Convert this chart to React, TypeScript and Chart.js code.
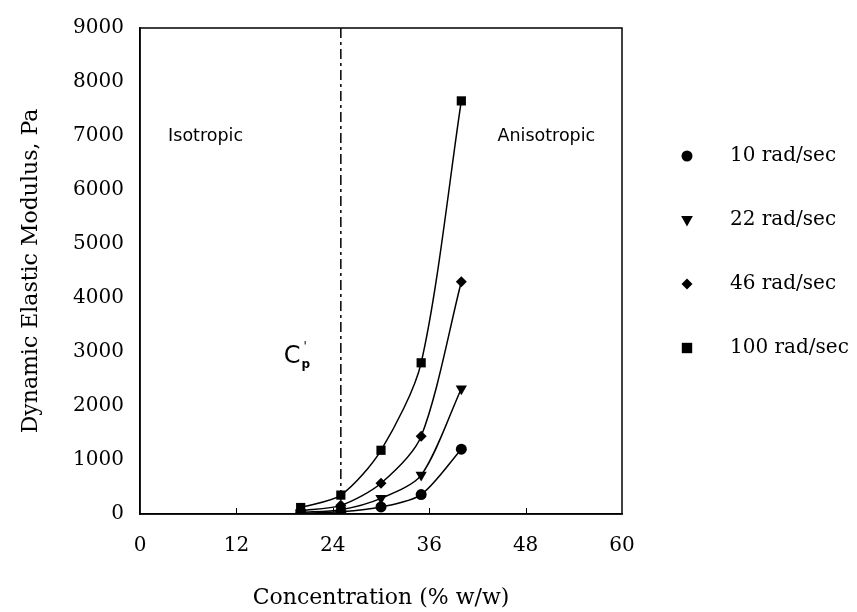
import React, { useEffect, useRef } from "react";
import { Chart, registerables } from "chart.js";

Chart.register(...registerables);

const concentrations = [20, 25, 30, 35, 40];
const series10 = [15, 40, 130, 360, 1200];
const series22 = [30, 80, 290, 720, 2320];
const series46 = [60, 160, 570, 1440, 4300];
const series100 = [120, 350, 1180, 2800, 7650];
const seriesLabels = ["10 rad/sec", "22 rad/sec", "46 rad/sec", "100 rad/sec"];
const xTicks = [0, 12, 24, 36, 48, 60];
const cpConcentration = 25;

const SERIF = "'DejaVu Serif', 'Liberation Serif', serif";
const SANS = "'DejaVu Sans', 'Liberation Sans', sans-serif";

const styles = [
  { pointStyle: "circle", radius: 5.5, rotation: 0 },
  { pointStyle: "triangle", radius: 6.5, rotation: 180 },
  { pointStyle: "rectRot", radius: 5.5, rotation: 0 },
  { pointStyle: "rect", radius: 6.5, rotation: 0 },
];

function drawMarker(ctx: CanvasRenderingContext2D, style: string, r: number, rot: number, x: number, y: number) {
  ctx.save();
  ctx.translate(x, y);
  ctx.rotate((rot * Math.PI) / 180);
  ctx.beginPath();
  if (style === "circle") {
    ctx.arc(0, 0, r, 0, Math.PI * 2);
  } else if (style === "triangle") {
    ctx.moveTo(0, -r);
    ctx.lineTo(r * 0.9, r * 0.6);
    ctx.lineTo(-r * 0.9, r * 0.6);
    ctx.closePath();
  } else if (style === "rectRot") {
    ctx.moveTo(0, -r);
    ctx.lineTo(r, 0);
    ctx.lineTo(0, r);
    ctx.lineTo(-r, 0);
    ctx.closePath();
  } else {
    const s = r * 0.8;
    ctx.rect(-s, -s, 2 * s, 2 * s);
  }
  ctx.fill();
  ctx.restore();
}

const annotationPlugin = {
  id: "annotations",
  afterDatasetsDraw(chart: any) {
    const { ctx, chartArea, scales } = chart;
    const xs = scales.x;
    const ys = scales.y;
    ctx.save();
    ctx.strokeStyle = "#000";
    ctx.lineWidth = 1.5;
    ctx.strokeRect(chartArea.left, chartArea.top, chartArea.right - chartArea.left, chartArea.bottom - chartArea.top);
    ctx.lineWidth = 1;
    xTicks.slice(1, -1).forEach((v) => {
      const px = Math.round(xs.getPixelForValue(v)) + 0.5;
      ctx.beginPath();
      ctx.moveTo(px, chartArea.bottom);
      ctx.lineTo(px, chartArea.bottom - 6);
      ctx.stroke();
    });
    const cx = xs.getPixelForValue(cpConcentration);
    ctx.setLineDash([10, 4, 3, 4]);
    ctx.lineWidth = 1.5;
    ctx.beginPath();
    ctx.moveTo(cx, chartArea.top);
    ctx.lineTo(cx, chartArea.bottom);
    ctx.stroke();
    ctx.setLineDash([]);
    ctx.fillStyle = "#000";
    ctx.font = `17.5px ${SANS}`;
    ctx.textBaseline = "middle";
    ctx.textAlign = "left";
    ctx.fillText("Isotropic", xs.getPixelForValue(3.5), ys.getPixelForValue(7000));
    ctx.fillText("Anisotropic", xs.getPixelForValue(44.5), ys.getPixelForValue(7000));
    const lx = xs.getPixelForValue(17.9);
    const ly = ys.getPixelForValue(2920);
    ctx.font = `24px ${SANS}`;
    ctx.fillText("C", lx, ly);
    const cw = ctx.measureText("C").width;
    ctx.font = `bold 12px ${SANS}`;
    ctx.fillText("p", lx + cw + 1, ly + 9);
    ctx.font = `12px ${SANS}`;
    ctx.fillText("'", lx + cw + 3, ly - 9);
    ctx.restore();
  },
  afterDraw(chart: any) {
    const { ctx } = chart;
    ctx.save();
    const startY = 156;
    const step = 64;
    chart.data.datasets.forEach((ds: any, i: number) => {
      const y = startY + i * step;
      ctx.fillStyle = "#000";
      drawMarker(ctx, ds.pointStyle, ds.pointRadius, ds.pointRotation, 687, y);
      ctx.font = `20px ${SERIF}`;
      ctx.textBaseline = "middle";
      ctx.textAlign = "left";
      ctx.fillText(ds.label, 730, y);
    });
    ctx.restore();
  },
};

export default function App() {
  const ref = useRef<HTMLCanvasElement | null>(null);
  useEffect(() => {
    if (!ref.current) return;
    const all = [series10, series22, series46, series100];
    const chart = new Chart(ref.current, {
      type: "line",
      data: {
        datasets: all.map((vals, i) => ({
          label: seriesLabels[i],
          data: concentrations.map((c, j) => ({ x: c, y: vals[j] })),
          borderColor: "#000",
          backgroundColor: "#000",
          borderWidth: 1.5,
          pointStyle: styles[i].pointStyle as any,
          pointRadius: styles[i].radius,
          pointRotation: styles[i].rotation,
          pointBorderWidth: 0,
          pointBackgroundColor: "#000",
          tension: 0.28,
          fill: false,
        })),
      },
      options: {
        animation: false,
        responsive: false,
        layout: { padding: { top: 16, right: 235, left: 0, bottom: 0 } },
        plugins: {
          legend: { display: false },
          tooltip: { enabled: false },
        },
        scales: {
          x: {
            type: "linear",
            min: 0,
            max: 60,
            afterBuildTicks: (s: any) => {
              s.ticks = xTicks.map((v) => ({ value: v }));
            },
            afterFit: (s: any) => {
              s.height = 98;
            },
            grid: { display: false, drawTicks: false },
            border: { display: true, color: "#000", width: 1.5 },
            ticks: {
              color: "#000",
              padding: 20,
              font: { family: SERIF, size: 20 },
              maxRotation: 0,
            },
            title: {
              display: true,
              text: "Concentration (% w/w)",
              color: "#000",
              font: { family: SERIF, size: 22 },
              padding: { top: 0, bottom: 1 },
            },
          },
          y: {
            type: "linear",
            min: 0,
            max: 9000,
            afterFit: (s: any) => {
              s.width = 140;
            },
            grid: { display: false, drawTicks: false },
            border: { display: true, color: "#000", width: 1.5 },
            ticks: {
              stepSize: 1000,
              color: "#000",
              padding: 16,
              font: { family: SERIF, size: 20 },
              callback: (v: any) => String(v),
            },
            title: {
              display: true,
              text: "Dynamic Elastic Modulus, Pa",
              color: "#000",
              font: { family: SERIF, size: 22 },
              padding: { top: 18, bottom: 0 },
            },
          },
        },
      },
      plugins: [annotationPlugin],
    });
    return () => chart.destroy();
  }, []);
  return (
    <div style={{ position: "absolute", left: 0, top: 0, width: 857, height: 612, background: "#fff" }}>
      <canvas ref={ref} width={857} height={612} />
    </div>
  );
}
